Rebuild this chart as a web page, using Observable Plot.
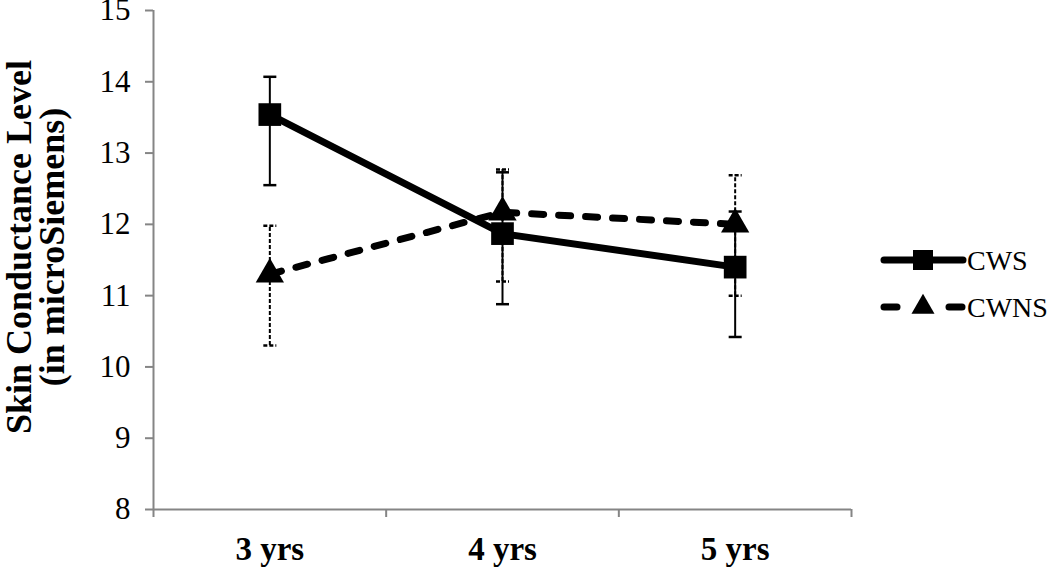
<!DOCTYPE html>
<html>
<head>
<meta charset="utf-8">
<script src="https://cdn.jsdelivr.net/npm/d3@7"></script>
<script src="https://cdn.jsdelivr.net/npm/@observablehq/plot@0.6"></script>
<style>
  html, body { margin: 0; padding: 0; background: #fff; }
  #chart svg { display: block; }
</style>
</head>
<body>
<div id="chart"></div>
<script>
// ---- data ----
const categories = ["3 yrs", "4 yrs", "5 yrs"];
const yTicks = [8, 9, 10, 11, 12, 13, 14, 15];
const seriesNames = ["CWS", "CWNS"];

const cwsMean = [13.54, 11.87, 11.40];
const cwsLow  = [12.55, 10.88, 10.42];
const cwsHigh = [14.07, 12.73, 12.18];

const cwnsMean = [11.30, 12.17, 12.00];
const cwnsLow  = [10.30, 11.20, 11.00];
const cwnsHigh = [11.98, 12.77, 12.69];

// ---- build tables ----
const rows = (means, lows, highs) =>
  categories.map((c, i) => ({ cat: c, pos: i + 0.5, mean: means[i], low: lows[i], high: highs[i] }));
const cws = rows(cwsMean, cwsLow, cwsHigh);
const cwns = rows(cwnsMean, cwnsLow, cwnsHigh);

const font = '"Liberation Serif", "Times New Roman", Times, serif';
const axisGray = "#858585";

// horizontal cap symbol for error bars
const cap = {
  draw(ctx, size) {
    const r = Math.sqrt(size / Math.PI);
    ctx.moveTo(-r, 0);
    ctx.lineTo(r, 0);
  }
};

const errorMarks = (data, dash) => [
  Plot.ruleX(data, { x: "pos", y1: "low", y2: "high", stroke: "#000", strokeWidth: 2, strokeDasharray: dash }),
  Plot.dot(data, { x: "pos", y: "high", symbol: cap, r: 6.5, stroke: "#000", strokeWidth: 2.5, strokeDasharray: dash }),
  Plot.dot(data, { x: "pos", y: "low", symbol: cap, r: 6.5, stroke: "#000", strokeWidth: 2.5, strokeDasharray: dash })
];

const chart = Plot.plot({
  width: 1050,
  height: 569,
  marginLeft: 153,
  marginRight: 199,
  marginTop: 10,
  marginBottom: 60,
  style: { fontFamily: font, background: "#fff", color: "#000", overflow: "visible" },
  x: { type: "linear", domain: [0, categories.length], axis: null },
  y: { domain: [8, 15], axis: null },
  marks: [
    // axis lines
    Plot.ruleX([0], { y1: 8, y2: 15, stroke: axisGray, strokeWidth: 2 }),
    Plot.ruleY([8], { x1: 0, x2: categories.length, stroke: axisGray, strokeWidth: 2 }),
    Plot.axisY({
      ticks: yTicks, tickSize: 8, tickPadding: 15,
      stroke: axisGray, strokeWidth: 2, fill: "#000", label: null, tickFormat: d => String(d)
    }),
    Plot.axisX({
      ticks: d3.range(0, categories.length + 1), tickSize: 8, tickFormat: () => "",
      stroke: axisGray, strokeWidth: 2, label: null
    }),
    Plot.axisX({
      ticks: categories.map((c, i) => i + 0.5), tickSize: 0, tickPadding: 27,
      tickFormat: d => categories[Math.floor(d)],
      fill: "#000", label: null
    }),
    // series lines
    Plot.line(cwns, { x: "pos", y: "mean", stroke: "#000", strokeWidth: 7, strokeDasharray: "12,15", strokeLinecap: "round" }),
    Plot.line(cws, { x: "pos", y: "mean", stroke: "#000", strokeWidth: 7 }),
    // error bars
    ...errorMarks(cwns, "4,2"),
    ...errorMarks(cws, null),
    // markers
    Plot.dot(cwns, { x: "pos", y: "mean", symbol: "triangle", r: 10.5, fill: "#000", stroke: "none" }),
    Plot.dot(cws, { x: "pos", y: "mean", symbol: "square", r: 12.8, fill: "#000", stroke: "none" })
  ]
});

document.getElementById("chart").appendChild(chart);

const svg = d3.select(chart);
// tick label fonts
svg.selectAll('[aria-label="y-axis tick label"]').attr("font-size", 31).attr("font-family", font);
svg.selectAll('[aria-label="x-axis tick label"]').attr("font-size", 33).attr("font-weight", "bold").attr("font-family", font);

// ---- y-axis title (two lines, rotated) ----
const title = svg.append("g")
  .attr("font-family", font)
  .attr("font-weight", "bold")
  .attr("font-size", 36)
  .attr("fill", "#000")
  .attr("text-anchor", "middle");
title.append("text").attr("transform", "translate(31,247) rotate(-90)").text("Skin Conductance Level");
title.append("text").attr("transform", "translate(64,247) rotate(-90)").text("(in microSiemens)");

// ---- legend ----
const lg = svg.append("g").attr("font-family", font).attr("font-size", 28).attr("fill", "#000")
  .attr("text-anchor", "start");
const rowY = [260, 307];
// CWS
lg.append("line").attr("x1", 884).attr("x2", 963).attr("y1", rowY[0]).attr("y2", rowY[0])
  .attr("stroke", "#000").attr("stroke-width", 7).attr("stroke-linecap", "round");
lg.append("path").attr("d", d3.symbol(d3.symbolSquare, 400)()).attr("transform", `translate(923,${rowY[0]})`);
lg.append("text").attr("x", 967).attr("y", rowY[0] + 9.5).text(seriesNames[0]);
// CWNS
[[884, 897], [949, 962]].forEach(([a, b]) =>
  lg.append("line").attr("x1", a).attr("x2", b).attr("y1", rowY[1]).attr("y2", rowY[1])
    .attr("stroke", "#000").attr("stroke-width", 7).attr("stroke-linecap", "round"));
lg.append("path").attr("d", d3.symbol(d3.symbolTriangle, 230)()).attr("transform", `translate(923,${rowY[1]})`);
lg.append("text").attr("x", 967).attr("y", rowY[1] + 9.5).text(seriesNames[1]);
</script>
</body>
</html>
